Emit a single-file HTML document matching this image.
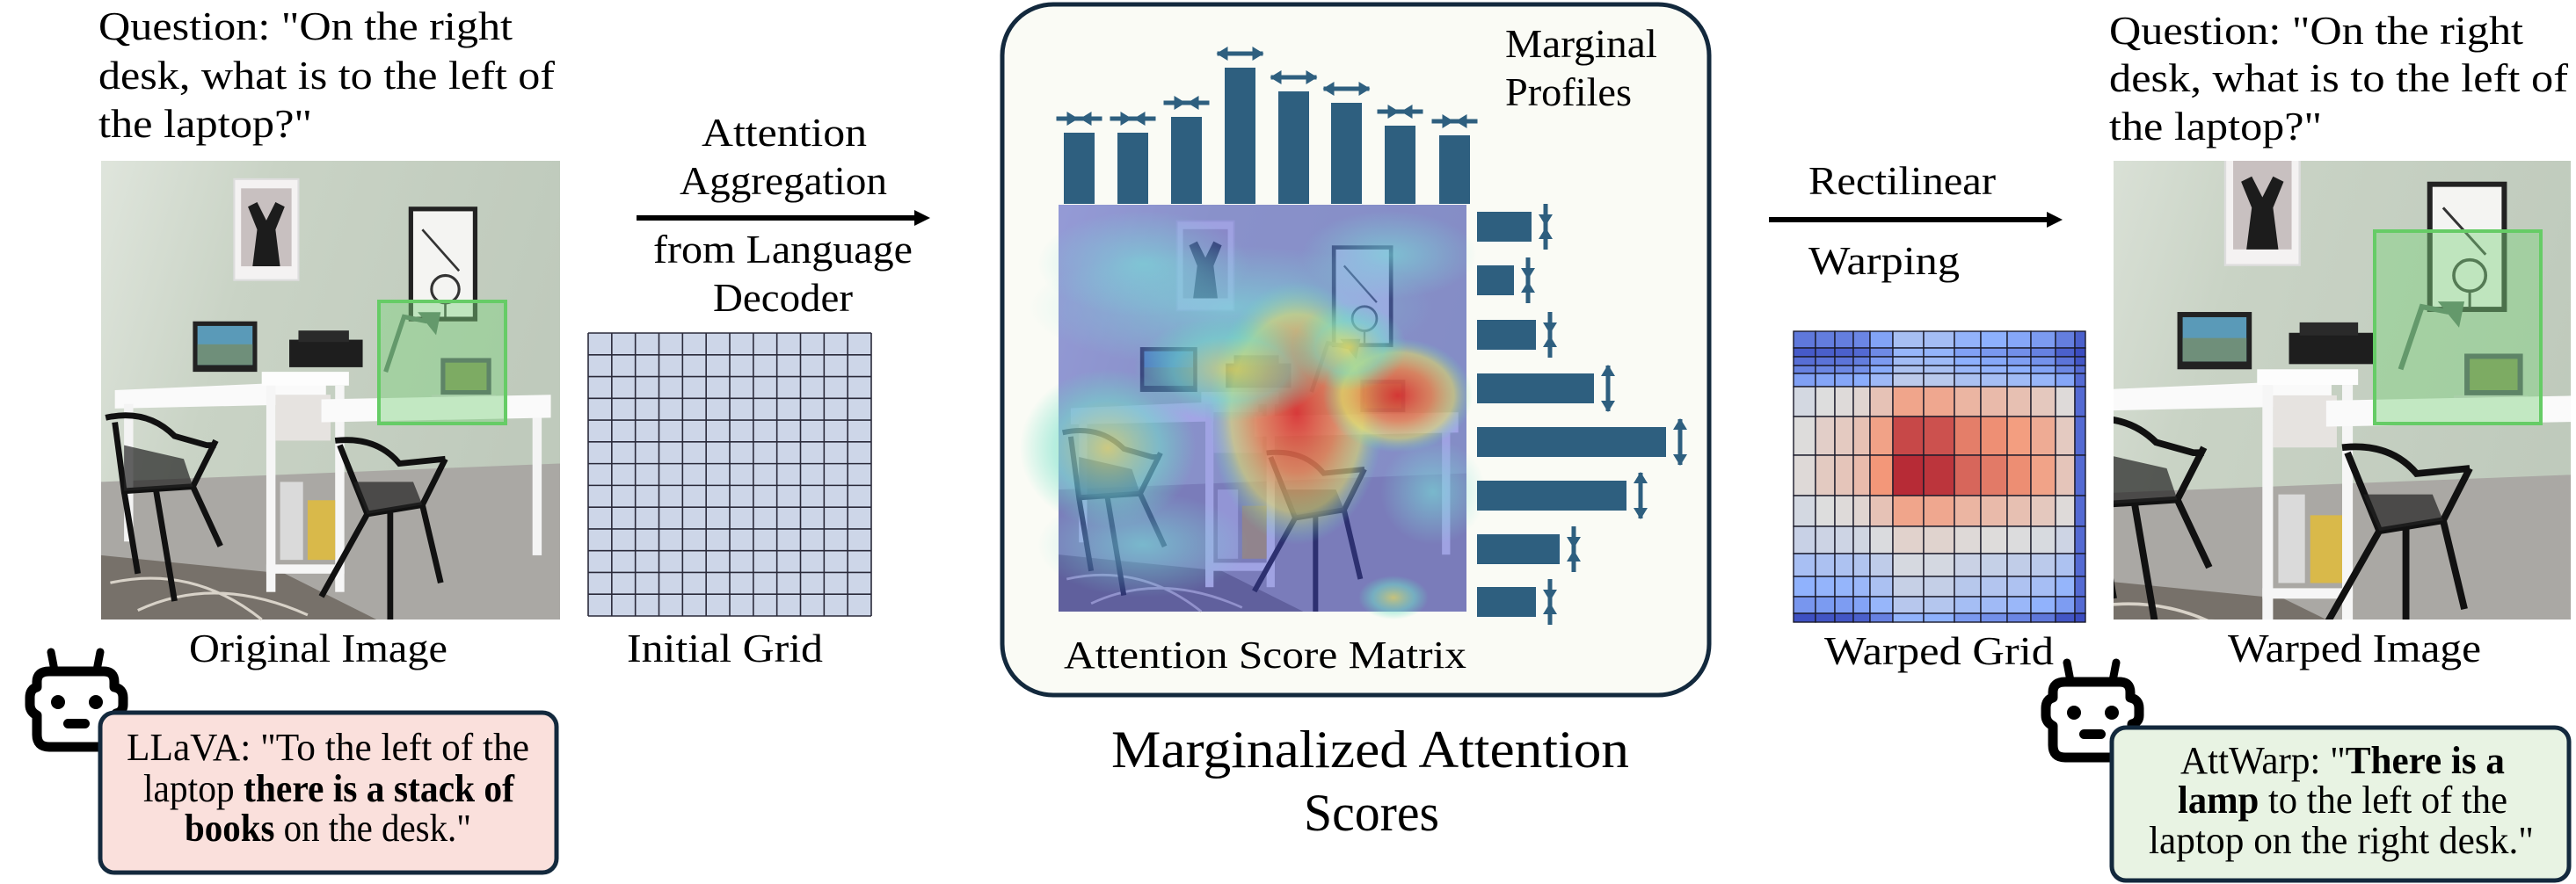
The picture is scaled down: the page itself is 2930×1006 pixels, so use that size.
<!DOCTYPE html>
<html><head><meta charset="utf-8">
<style>
html,body{margin:0;padding:0;background:#fff;}
svg{display:block;}
text{font-family:"Liberation Serif","DejaVu Serif",serif;fill:#000;}
</style></head>
<body>
<svg id="s" width="2930" height="1006" viewBox="0 0 2930 1006" xmlns="http://www.w3.org/2000/svg">
<defs>
<linearGradient id="wall" x1="0" y1="0" x2="1" y2="0.3">
<stop offset="0" stop-color="#dfe5dc"/><stop offset="0.35" stop-color="#c9d3c5"/><stop offset="1" stop-color="#bfcabc"/>
</linearGradient>
<g id="scene">
<rect x="0" y="0" width="100" height="100" fill="url(#wall)"/>
<polygon points="0,70 100,66 100,100 0,100" fill="#aaa8a4"/>
<polygon points="0,86 40,90 60,100 0,100" fill="#77716a"/>
<path d="M2,92 Q20,88 35,100 M8,98 Q25,90 45,99" stroke="#d8d2c8" stroke-width="0.6" fill="none"/>
<rect x="29" y="4" width="14" height="22" fill="#f4f2f2" stroke="#ddd" stroke-width="0.4"/>
<rect x="30.5" y="6" width="11" height="17" fill="#c8c0c0"/>
<path d="M33,23 L34,15 L32,10 L34,9 L36,13 L38,9 L40,10 L38,15 L39,23 Z" fill="#1c1c1c"/>
<rect x="67" y="10" width="15" height="25" fill="#222"/>
<rect x="68" y="11" width="13" height="23" fill="#f4f4f2"/>
<circle cx="75" cy="28" r="3" fill="none" stroke="#333" stroke-width="0.6"/>
<path d="M75,31 L75,34 M70,15 L78,24" stroke="#333" stroke-width="0.5"/>
<rect x="20" y="35" width="14" height="11" fill="#222"/>
<rect x="21" y="36" width="12" height="8.5" fill="#5a9ab8"/>
<rect x="21" y="40" width="12" height="4.5" fill="#6f8f7a"/>
<rect x="41" y="39" width="16" height="6" fill="#1e1e1e"/>
<rect x="43" y="37" width="11" height="2.5" fill="#2a2a2a"/>
<path d="M62,46 L66,34 L71,35" stroke="#4f6a5c" stroke-width="1" fill="none"/>
<path d="M69,33 L74,33 L73,38 Z" fill="#4f6a5c"/>
<rect x="74" y="43" width="11" height="8" fill="#445"/>
<rect x="75" y="44" width="9" height="6" fill="#7d8a4e"/>
<rect x="72" y="51" width="14" height="1.5" fill="#ccc"/>
<polygon points="3,50 49,48 49,53 3,54" fill="#fafafa"/>
<rect x="5" y="53" width="2" height="30" fill="#f4f4f4"/>
<rect x="35" y="46" width="19" height="3" fill="#fdfdfd"/>
<rect x="36" y="49" width="2" height="45" fill="#f6f6f6"/>
<rect x="51" y="49" width="2" height="45" fill="#f6f6f6"/>
<rect x="36" y="88" width="17" height="2" fill="#f6f6f6"/>
<rect x="38" y="51" width="12" height="10" fill="#e6e3e0"/>
<rect x="39" y="70" width="5" height="17" fill="#dadada"/>
<rect x="45" y="74" width="6" height="13" fill="#d9b94a"/>
<polygon points="48,52 98,51 98,56 48,57" fill="#fafafa"/>
<rect x="94" y="56" width="2" height="30" fill="#f4f4f4"/>
<g stroke="#111" stroke-width="1.3" fill="none">
<path d="M1,56 Q10,54 16,60 L23,62 L25,62 M3,57 L5,72 L20,71 L25,61 M5,72 L8,90 M20,71 L26,84 M12,72 L16,96"/>
<path d="M51,61 Q60,60 65,66 L75,65 M52,62 L58,77 L70,75 L75,65 M58,77 L48,95 M70,75 L74,92 M63,76 L63,100"/>
</g>
<path d="M5,62 L18,65 L20,71 L5,72 Z" fill="#222" opacity="0.7"/>
<path d="M55,70 L68,70 L70,75 L58,77 Z" fill="#222" opacity="0.7"/>
</g>
<radialGradient id="hr" cx="0.5" cy="0.5" r="0.5"><stop offset="0" stop-color="#e0302a" stop-opacity="0.9"/><stop offset="0.45" stop-color="#f08040" stop-opacity="0.75"/><stop offset="0.75" stop-color="#e8e060" stop-opacity="0.55"/><stop offset="1" stop-color="#60e0c0" stop-opacity="0"/></radialGradient>
<radialGradient id="hy" cx="0.5" cy="0.5" r="0.5"><stop offset="0" stop-color="#e8e060" stop-opacity="0.7"/><stop offset="0.6" stop-color="#70e0c8" stop-opacity="0.5"/><stop offset="1" stop-color="#60e0c0" stop-opacity="0"/></radialGradient>
<radialGradient id="hc" cx="0.5" cy="0.5" r="0.5"><stop offset="0" stop-color="#78e0d8" stop-opacity="0.6"/><stop offset="1" stop-color="#78e0d8" stop-opacity="0"/></radialGradient>
<g id="rob">
<line x1="24" y1="4" x2="29" y2="30" stroke="#000" stroke-width="9" stroke-linecap="round"/>
<line x1="80" y1="4" x2="75" y2="30" stroke="#000" stroke-width="9" stroke-linecap="round"/>
<path d="M22,26 H84 Q96,26 96,38 V44 Q106,46 106,56 V64 Q106,72 98,74 V98 Q98,112 84,112 H22 Q8,112 8,98 V76 Q0,72 0,64 V56 Q0,46 8,44 V38 Q8,26 22,26 Z" fill="#fff" stroke="#000" stroke-width="11" stroke-linejoin="round"/>
<circle cx="32" cy="61" r="8" fill="#000"/><circle cx="75" cy="61" r="8" fill="#000"/>
<rect x="38" y="80" width="30" height="11" rx="5.5" fill="#000"/>
</g>
</defs>

<!-- LEFT -->
<g font-size="46">
<text x="112" y="45" textLength="471" lengthAdjust="spacingAndGlyphs">Question: "On the right</text>
<text x="112" y="101" textLength="519" lengthAdjust="spacingAndGlyphs">desk, what is to the left of</text>
<text x="112" y="156" textLength="243" lengthAdjust="spacingAndGlyphs">the laptop?"</text>
</g>
<g transform="translate(115,183) scale(5.22,5.22)"><use href="#scene"/></g>
<rect x="431" y="343" width="144" height="139" fill="#7fd37f" fill-opacity="0.45" stroke="#66cc66" stroke-width="4"/>
<text x="215" y="753" font-size="46" textLength="294" lengthAdjust="spacingAndGlyphs">Original Image</text>

<!-- arrow 1 -->
<line x1="724" y1="248" x2="1040" y2="248" stroke="#000" stroke-width="6"/>
<polygon points="1040,239 1058,248 1040,257" fill="#000"/>
<g font-size="46">
<text x="798" y="166" textLength="188" lengthAdjust="spacingAndGlyphs">Attention</text>
<text x="773" y="221" textLength="236" lengthAdjust="spacingAndGlyphs">Aggregation</text>
<text x="743" y="299" textLength="295" lengthAdjust="spacingAndGlyphs">from Language</text>
<text x="811" y="354" textLength="159" lengthAdjust="spacingAndGlyphs">Decoder</text>
</g>
<rect x="669" y="379" width="322" height="322" fill="#cdd6e8"/>
<g id="ig" stroke="#2a2a3a" stroke-width="1.6"></g>
<text x="713" y="753" font-size="46" textLength="223" lengthAdjust="spacingAndGlyphs">Initial Grid</text>

<!-- LLaVA -->
<g transform="translate(34,738)"><use href="#rob"/></g>
<rect x="114" y="811" width="519" height="182" rx="16" fill="#fae0dc" stroke="#13293d" stroke-width="5"/>
<g font-size="44">
<text x="144" y="865" textLength="458" lengthAdjust="spacingAndGlyphs">LLaVA: "To the left of the</text>
<text x="163" y="912" textLength="422" lengthAdjust="spacingAndGlyphs">laptop <tspan font-weight="bold">there is a stack of</tspan></text>
<text x="210" y="957" textLength="326" lengthAdjust="spacingAndGlyphs"><tspan font-weight="bold">books</tspan> on the desk."</text>
</g>

<!-- CENTER -->
<rect x="1140" y="5" width="804" height="786" rx="58" fill="#fafbf5" stroke="#13293d" stroke-width="5"/>
<g transform="translate(1204,233) scale(4.64,4.63)"><use href="#scene"/></g>
<g>
<rect x="1204" y="233" width="464" height="463" fill="#4a50d0" opacity="0.5"/>
<ellipse cx="1400" cy="350" rx="230" ry="70" fill="url(#hc)"/>
<ellipse cx="1300" cy="300" rx="120" ry="60" fill="url(#hc)"/>
<ellipse cx="1580" cy="290" rx="100" ry="50" fill="url(#hc)"/>
<ellipse cx="1260" cy="510" rx="100" ry="90" fill="url(#hy)"/>
<ellipse cx="1300" cy="620" rx="120" ry="60" fill="url(#hc)"/>
<ellipse cx="1475" cy="470" rx="100" ry="150" fill="url(#hr)"/>
<ellipse cx="1590" cy="450" rx="85" ry="65" fill="url(#hr)"/>
<ellipse cx="1400" cy="420" rx="110" ry="60" fill="url(#hy)"/>
<ellipse cx="1535" cy="395" rx="65" ry="50" fill="url(#hy)"/>
<ellipse cx="1630" cy="560" rx="60" ry="60" fill="url(#hc)"/>
<ellipse cx="1585" cy="680" rx="40" ry="25" fill="url(#hy)"/>
</g>
<g id="bars" fill="#2e5f7f"></g>
<g font-size="46">
<text x="1712" y="65" textLength="173" lengthAdjust="spacingAndGlyphs">Marginal</text>
<text x="1712" y="120" textLength="144" lengthAdjust="spacingAndGlyphs">Profiles</text>
</g>
<text x="1210" y="760" font-size="44" textLength="458" lengthAdjust="spacingAndGlyphs">Attention Score Matrix</text>
<g font-size="60">
<text x="1264" y="873" textLength="589" lengthAdjust="spacingAndGlyphs">Marginalized Attention</text>
<text x="1483" y="945" textLength="154" lengthAdjust="spacingAndGlyphs">Scores</text>
</g>

<!-- arrow 2 -->
<line x1="2012" y1="250" x2="2328" y2="250" stroke="#000" stroke-width="6"/>
<polygon points="2328,241 2346,250 2328,259" fill="#000"/>
<g font-size="46">
<text x="2057" y="221" textLength="213" lengthAdjust="spacingAndGlyphs">Rectilinear</text>
<text x="2057" y="312" textLength="172" lengthAdjust="spacingAndGlyphs">Warping</text>
</g>
<g id="wg"></g>
<text x="2075" y="756" font-size="46" textLength="261" lengthAdjust="spacingAndGlyphs">Warped Grid</text>

<!-- RIGHT -->
<g font-size="46">
<text x="2399" y="50" textLength="471" lengthAdjust="spacingAndGlyphs">Question: "On the right</text>
<text x="2399" y="104" textLength="522" lengthAdjust="spacingAndGlyphs">desk, what is to the left of</text>
<text x="2399" y="159" textLength="242" lengthAdjust="spacingAndGlyphs">the laptop?"</text>
</g>
<svg x="2404" y="183" width="520" height="522" viewBox="8 6 86 88" preserveAspectRatio="none"><use href="#scene"/></svg>
<rect x="2701" y="263" width="189" height="219" fill="#7fd37f" fill-opacity="0.45" stroke="#66cc66" stroke-width="4"/>
<text x="2534" y="753" font-size="46" textLength="288" lengthAdjust="spacingAndGlyphs">Warped Image</text>

<g transform="translate(2327,750)"><use href="#rob"/></g>
<rect x="2402" y="828" width="520" height="174" rx="16" fill="#e8f3e3" stroke="#13293d" stroke-width="5"/>
<g font-size="44">
<text x="2480" y="880" textLength="369" lengthAdjust="spacingAndGlyphs">AttWarp: "<tspan font-weight="bold">There is a</tspan></text>
<text x="2477" y="925" textLength="375" lengthAdjust="spacingAndGlyphs"><tspan font-weight="bold">lamp</tspan> to the left of the</text>
<text x="2444" y="971" textLength="438" lengthAdjust="spacingAndGlyphs">laptop on the right desk."</text>
</g>
</svg>
<script>
var NS="http://www.w3.org/2000/svg";
function el(p,t,a){var e=document.createElementNS(NS,t);for(var k in a)e.setAttribute(k,a[k]);p.appendChild(e);return e;}
var ig=document.getElementById("ig");
for(var i=0;i<=12;i++){var x=669+i*322/12;el(ig,"line",{x1:x,y1:379,x2:x,y2:701});}
for(var j=0;j<=13;j++){var y=379+j*322/13;el(ig,"line",{x1:669,y1:y,x2:991,y2:y});}
var b=document.getElementById("bars");
var lefts=[1210,1271,1332,1393,1454,1514,1575,1637],tops=[151,151,133,77,104,117,143,154],out=[0,0,0,1,1,1,0,0];
for(var i=0;i<8;i++){
 el(b,"rect",{x:lefts[i],y:tops[i],width:35,height:232-tops[i]});
 var cx=lefts[i]+17.5,cy=tops[i]-16;
 el(b,"rect",{x:cx-26,y:cy-2.5,width:52,height:5});
 if(out[i]){el(b,"polygon",{points:(cx-27)+","+cy+" "+(cx-14)+","+(cy-8)+" "+(cx-14)+","+(cy+8)});el(b,"polygon",{points:(cx+27)+","+cy+" "+(cx+14)+","+(cy-8)+" "+(cx+14)+","+(cy+8)});}
 else{el(b,"polygon",{points:(cx-1)+","+cy+" "+(cx-14)+","+(cy-8)+" "+(cx-14)+","+(cy+8)});el(b,"polygon",{points:(cx+1)+","+cy+" "+(cx+14)+","+(cy-8)+" "+(cx+14)+","+(cy+8)});}
}
var rc=[258,319,381,442,503,564,625,685],re=[1742,1722,1747,1813,1895,1850,1774,1747];
for(var i=0;i<8;i++){
 el(b,"rect",{x:1680,y:rc[i]-17,width:re[i]-1680,height:34});
 var cx=re[i]+16,cy=rc[i];
 el(b,"rect",{x:cx-2.5,y:cy-26,width:5,height:52});
 if(out[i]){el(b,"polygon",{points:cx+","+(cy-27)+" "+(cx-8)+","+(cy-14)+" "+(cx+8)+","+(cy-14)});el(b,"polygon",{points:cx+","+(cy+27)+" "+(cx-8)+","+(cy+14)+" "+(cx+8)+","+(cy+14)});}
 else{el(b,"polygon",{points:cx+","+(cy-1)+" "+(cx-8)+","+(cy-14)+" "+(cx+8)+","+(cy-14)});el(b,"polygon",{points:cx+","+(cy+1)+" "+(cx-8)+","+(cy+14)+" "+(cx+8)+","+(cy+14)});}
}
var wg=document.getElementById("wg");
var xs=[2040,2065,2087,2108,2127,2153,2188,2223,2253,2283,2310,2338,2360,2372];
var ys=[377,396,406,416,425,440,474,518,564,599,630,656,679,698,708];
var rv=[-.75,-.9,-.8,-.7,-.55,.2,.55,.65,.2,-.1,-.3,-.45,-.6,-.95];
var cv=[-.2,-.05,0,.1,.45,1,.95,.7,.6,.5,.35,0,-1];
var stops=[[-1,[59,76,192]],[-.5,[141,176,254]],[0,[221,221,221]],[.5,[244,154,123]],[1,[170,20,40]]];
function cm(v){v=Math.max(-1,Math.min(1,v));for(var k=0;k<4;k++){var a=stops[k],c=stops[k+1];if(v<=c[0]){var t=(v-a[0])/(c[0]-a[0]);return "rgb("+[0,1,2].map(function(q){return Math.round(a[1][q]+(c[1][q]-a[1][q])*t)}).join(",")+")";}}return "rgb(170,20,40)";}
for(var r=0;r<14;r++)for(var c=0;c<13;c++){
 var row=rv[r],col=cv[c],v;
 if(row>=0)v=row*(0.35+col*0.75)+(col-0.2)*0.25; else v=row*(1-0.35*Math.max(col,0))+0.15*col;
 if(c==12)v=Math.min(v,-0.85);
 el(wg,"rect",{x:xs[c],y:ys[r],width:xs[c+1]-xs[c],height:ys[r+1]-ys[r],fill:cm(v),stroke:"#1a1a2a","stroke-width":1.4});
}
</script>
</body></html>
